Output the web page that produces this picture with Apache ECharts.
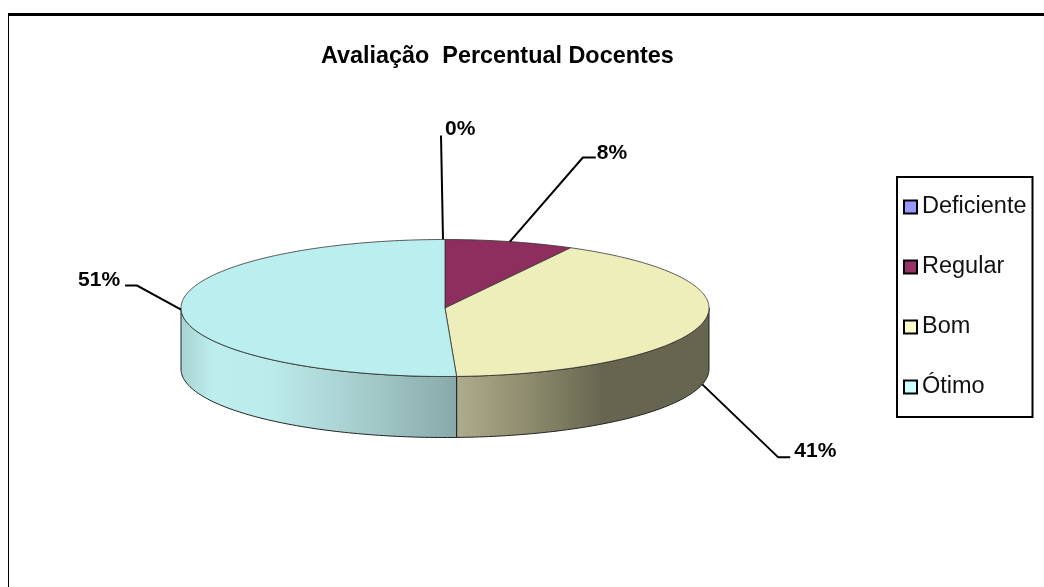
<!DOCTYPE html>
<html><head><meta charset="utf-8">
<style>html,body{margin:0;padding:0;background:#fff}#c{width:1044px;height:587px}</style>
<script src="https://cdn.jsdelivr.net/npm/echarts@6/dist/echarts.min.js"></script>
</head><body><div id="c"></div>
<script>
var categories = ['Deficiente', 'Regular', 'Bom', 'Ótimo'];
var values = [0, 7.9, 41.4, 50.7];
var tickLabels = ['0%', '8%', '41%', '51%'];
var topColors = ['#9999ff', '#8e2e5e', '#eeeebb', '#bbeeee'];
var legendColors = ['#9999ff', '#993366', '#ffffcc', '#ccffff'];

var cx = 445, cy = 308, rx = 264, ry = 68.5, depth = 61;
var wallStops = [
  null, null,
  [[0, '#aeac8c'], [0.3, '#8c8a6c'], [0.58, '#66654f'], [1, '#66654f']],
  [[0, '#a8d2d2'], [0.12, '#bdeeed'], [0.32, '#bbebea'], [0.62, '#a9d0d0'], [1, '#88a9a9']]
];
// leader geometry per label, relative to the slice anchor
var leaders = [
  {drop: 0, pts: [[-2, 0], [-4, -104]], text: [0, -104], align: 'left', tdx: 0, tdy: -6},
  {drop: 0, pts: [[0, 0], [73, -84], [86, -84]], text: [86, -84], align: 'left', tdx: 1, tdy: -4},
  {drop: 1, pts: [[0, 0], [76, 73], [88, 73]], text: [88, 73], align: 'left', tdx: 4, tdy: -6},
  {drop: 0, pts: [[0, 0], [-44, -24], [-56, -24]], text: [-56, -24], align: 'right', tdx: -5, tdy: -5}
];

var total = values.reduce(function (a, b) { return a + b; }, 0);
function startOf(i) {
  var s = 0;
  for (var k = 0; k < i; k++) s += values[k];
  return s / total * 360;
}
function pt(deg, dy) {
  var t = deg * Math.PI / 180;
  return [cx + rx * Math.sin(t), cy - ry * Math.cos(t) + (dy || 0)];
}
function arc(a, b, dy) {
  var out = [], n = Math.max(2, Math.ceil(Math.abs(b - a)));
  for (var i = 0; i <= n; i++) out.push(pt(a + (b - a) * i / n, dy));
  return out;
}
function makeRender(idx) {
  return function (params, api) {
    var share = api.value(0) / total * 360;
    var a = startOf(idx), b = a + share, children = [];
    if (share > 0) {
      var fa = Math.max(a, 90), fb = Math.min(b, 270);
      if (fb > fa) {
        var wall = arc(fa, fb, 0).concat(arc(fb, fa, depth));
        children.push({
          type: 'polygon', shape: {points: wall},
          style: {fill: {type: 'linear', x: 0, y: 0, x2: 1, y2: 0,
            colorStops: wallStops[idx].map(function (s) { return {offset: s[0], color: s[1]}; })},
            stroke: '#222', lineWidth: 1}
        });
      }
      var face = [[cx, cy]].concat(arc(a, b, 0));
      children.push({type: 'polygon', shape: {points: face},
        style: {fill: topColors[idx], stroke: '#333', lineWidth: 0.8}});
    }
    var L = leaders[idx], mid = pt(a + share / 2, L.drop ? depth : 0);
    var line = L.pts.map(function (p) { return [mid[0] + p[0], mid[1] + p[1]]; });
    children.push({type: 'polyline', shape: {points: line},
      style: {fill: null, stroke: '#000', lineWidth: 2}});
    children.push({type: 'text', style: {
      x: mid[0] + L.text[0] + L.tdx, y: mid[1] + L.text[1] + L.tdy,
      text: tickLabels[idx], fill: '#000', align: L.align, verticalAlign: 'middle',
      font: 'bold 21px "Liberation Sans", Arial, sans-serif'}});
    return {type: 'group', children: children};
  };
}

var chart = echarts.init(document.getElementById('c'), null, {renderer: 'canvas'});
chart.setOption({
  animation: false,
  backgroundColor: '#fff',
  title: {text: 'Avaliação  Percentual Docentes', left: 321, top: 45, padding: 0,
    textStyle: {fontFamily: '"Liberation Sans", Arial, sans-serif', fontSize: 23.4, fontWeight: 'bold', color: '#000'}},
  legend: {
    orient: 'vertical', left: 897, top: 177, padding: [18, 6, 18, 6],
    itemWidth: 13, itemHeight: 13, itemGap: 36, selectedMode: false,
    backgroundColor: '#fff', borderColor: '#000', borderWidth: 2, borderRadius: 0,
    textStyle: {fontFamily: '"Liberation Sans", Arial, sans-serif', fontSize: 23.5, color: '#111'},
    data: categories.map(function (c, i) {
      return {name: c, icon: 'rect', itemStyle: {color: legendColors[i], borderColor: '#000', borderWidth: 2}};
    })
  },
  graphic: [
    {type: 'rect', shape: {x: 8, y: 13, width: 1036, height: 3}, style: {fill: '#000'}},
    {type: 'rect', shape: {x: 8, y: 13, width: 1, height: 574}, style: {fill: '#000'}}
  ],
  series: categories.map(function (c, i) {
    return {type: 'custom', name: c, coordinateSystem: 'none', silent: true,
      data: [[values[i]]], renderItem: makeRender(i), itemStyle: {color: legendColors[i]}};
  })
});
</script></body></html>
